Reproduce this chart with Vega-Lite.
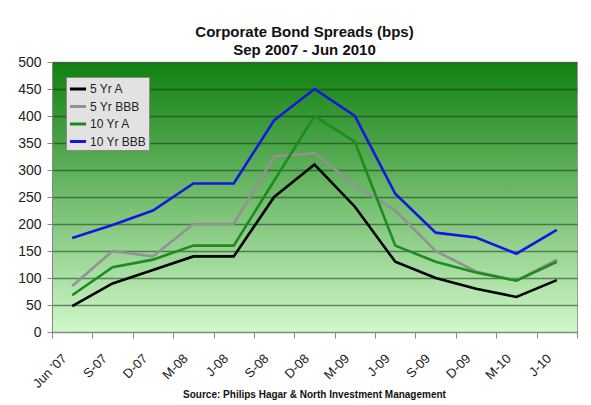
{
  "$schema": "https://vega.github.io/schema/vega-lite/v6.json",
  "width": 525,
  "height": 270,
  "autosize": {"type": "none"},
  "padding": {"left": 52, "top": 62, "right": 14, "bottom": 73},
  "background": "white",
  "title": {
    "text": ["Corporate Bond Spreads (bps)", "Sep 2007 - Jun 2010"],
    "font": "Liberation Sans",
    "fontSize": 15,
    "fontWeight": "bold",
    "color": "#111111",
    "lineHeight": 18,
    "anchor": "middle",
    "dx": -10,
    "offset": -3
  },
  "config": {
    "view": {
      "fill": {"gradient": "linear", "x1": 0, "y1": 0, "x2": 0, "y2": 1,
        "stops": [{"offset": 0, "color": "#108010"}, {"offset": 1, "color": "#d2f8ca"}]},
      "stroke": "#9a9a9a",
      "strokeWidth": 1
    },
    "font": "Liberation Sans"
  },
  "data": {
    "values": [
      {"q": "Jun '07", "s": "5 Yr A", "v": 48},
      {"q": "S-07", "s": "5 Yr A", "v": 90},
      {"q": "D-07", "s": "5 Yr A", "v": 115},
      {"q": "M-08", "s": "5 Yr A", "v": 140},
      {"q": "J-08", "s": "5 Yr A", "v": 140},
      {"q": "S-08", "s": "5 Yr A", "v": 250},
      {"q": "D-08", "s": "5 Yr A", "v": 310},
      {"q": "M-09", "s": "5 Yr A", "v": 232},
      {"q": "J-09", "s": "5 Yr A", "v": 130},
      {"q": "S-09", "s": "5 Yr A", "v": 100},
      {"q": "D-09", "s": "5 Yr A", "v": 80},
      {"q": "M-10", "s": "5 Yr A", "v": 65},
      {"q": "J-10", "s": "5 Yr A", "v": 96},
      {"q": "Jun '07", "s": "5 Yr BBB", "v": 85},
      {"q": "S-07", "s": "5 Yr BBB", "v": 150},
      {"q": "D-07", "s": "5 Yr BBB", "v": 140},
      {"q": "M-08", "s": "5 Yr BBB", "v": 200},
      {"q": "J-08", "s": "5 Yr BBB", "v": 200},
      {"q": "S-08", "s": "5 Yr BBB", "v": 325},
      {"q": "D-08", "s": "5 Yr BBB", "v": 331},
      {"q": "M-09", "s": "5 Yr BBB", "v": 272},
      {"q": "J-09", "s": "5 Yr BBB", "v": 225},
      {"q": "S-09", "s": "5 Yr BBB", "v": 150},
      {"q": "D-09", "s": "5 Yr BBB", "v": 112},
      {"q": "M-10", "s": "5 Yr BBB", "v": 95},
      {"q": "J-10", "s": "5 Yr BBB", "v": 134},
      {"q": "Jun '07", "s": "10 Yr A", "v": 68},
      {"q": "S-07", "s": "10 Yr A", "v": 120},
      {"q": "D-07", "s": "10 Yr A", "v": 134},
      {"q": "M-08", "s": "10 Yr A", "v": 160},
      {"q": "J-08", "s": "10 Yr A", "v": 160},
      {"q": "S-08", "s": "10 Yr A", "v": 280},
      {"q": "D-08", "s": "10 Yr A", "v": 400},
      {"q": "M-09", "s": "10 Yr A", "v": 352},
      {"q": "J-09", "s": "10 Yr A", "v": 160},
      {"q": "S-09", "s": "10 Yr A", "v": 130},
      {"q": "D-09", "s": "10 Yr A", "v": 110},
      {"q": "M-10", "s": "10 Yr A", "v": 95},
      {"q": "J-10", "s": "10 Yr A", "v": 130},
      {"q": "Jun '07", "s": "10 Yr BBB", "v": 174},
      {"q": "S-07", "s": "10 Yr BBB", "v": 198},
      {"q": "D-07", "s": "10 Yr BBB", "v": 225},
      {"q": "M-08", "s": "10 Yr BBB", "v": 275},
      {"q": "J-08", "s": "10 Yr BBB", "v": 275},
      {"q": "S-08", "s": "10 Yr BBB", "v": 392},
      {"q": "D-08", "s": "10 Yr BBB", "v": 450},
      {"q": "M-09", "s": "10 Yr BBB", "v": 400},
      {"q": "J-09", "s": "10 Yr BBB", "v": 256},
      {"q": "S-09", "s": "10 Yr BBB", "v": 184},
      {"q": "D-09", "s": "10 Yr BBB", "v": 175},
      {"q": "M-10", "s": "10 Yr BBB", "v": 145},
      {"q": "J-10", "s": "10 Yr BBB", "v": 189}
    ]
  },
  "mark": {"type": "line", "strokeWidth": 2.6, "strokeJoin": "miter"},
  "encoding": {
    "x": {
      "field": "q",
      "type": "ordinal",
      "bandPosition": 0.5,
      "sort": ["Jun '07", "S-07", "D-07", "M-08", "J-08", "S-08", "D-08", "M-09", "J-09", "S-09", "D-09", "M-10", "J-10"],
      "scale": {"type": "band", "paddingInner": 0, "paddingOuter": 0},
      "axis": {
        "title": "Source: Philips Hagar & North Investment Management",
        "titleFont": "Liberation Sans",
        "titleFontSize": 10,
        "titleFontWeight": "bold",
        "titleColor": "#111111",
        "titleBaseline": "middle",
        "titleY": 62,
        "titleX": 262,
        "labelAngle": -45,
        "labelAlign": "right",
        "labelBaseline": "middle",
        "labelFontSize": 13,
        "labelColor": "#222222",
        "labelPadding": 18,
        "labelOffset": -8,
        "labelFont": "Liberation Sans",
        "tickBand": "extent",
        "tickSize": 6,
        "tickColor": "#888888",
        "domainColor": "#888888",
        "grid": false
      }
    },
    "y": {
      "field": "v",
      "type": "quantitative",
      "scale": {"domain": [0, 500], "nice": false},
      "axis": {
        "title": null,
        "values": [0, 50, 100, 150, 200, 250, 300, 350, 400, 450, 500],
        "labelFontSize": 14,
        "labelColor": "#222222",
        "labelFont": "Liberation Sans",
        "labelPadding": 6,
        "tickSize": 5,
        "tickColor": "#888888",
        "domainColor": "#888888",
        "gridColor": "#1a331a",
        "gridOpacity": 0.55,
        "gridWidth": 1.5
      }
    },
    "color": {
      "field": "s",
      "type": "nominal",
      "sort": ["5 Yr A", "5 Yr BBB", "10 Yr A", "10 Yr BBB"],
      "scale": {
        "domain": ["5 Yr A", "5 Yr BBB", "10 Yr A", "10 Yr BBB"],
        "range": ["#000000", "#929292", "#1c8c1c", "#1616e0"]
      },
      "legend": {
        "title": null,
        "orient": "none",
        "legendX": 14,
        "legendY": 15,
        "fillColor": "#e2e2e2",
        "strokeColor": "#8a8a8a",
        "padding": 2,
        "rowPadding": 1.5,
        "symbolType": "stroke",
        "symbolSize": 260,
        "symbolStrokeWidth": 3,
        "labelFontSize": 12,
        "labelFont": "Liberation Sans",
        "labelColor": "#222222",
        "labelOffset": 2
      }
    }
  }
}
